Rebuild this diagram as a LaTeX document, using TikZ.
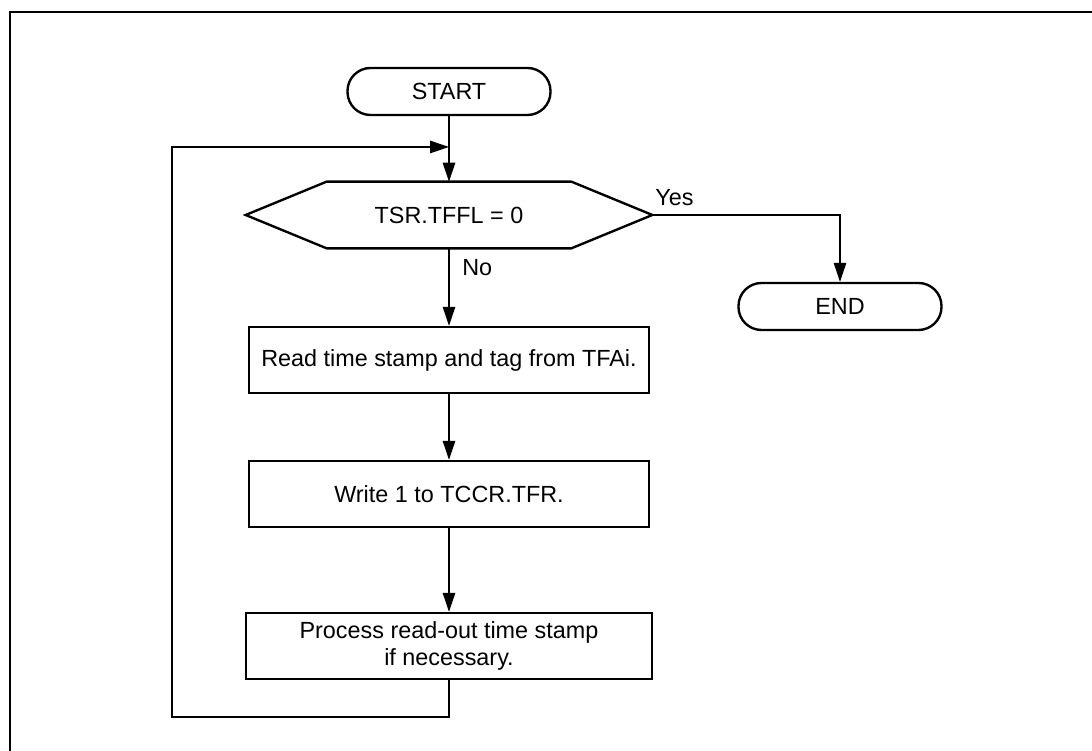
\documentclass[tikz,border=0pt]{standalone}
\usepackage{fontspec}
\setmainfont{Liberation Sans}
\usetikzlibrary{arrows.meta}
\tikzset{
  term/.style={draw,line width=1.35pt,rounded corners=0.46cm,minimum width=4.06cm,minimum height=0.94cm,inner sep=0pt,font=\fontsize{13.3}{15.4}\selectfont},
  proc/.style={draw,line width=1.35pt,minimum width=8.0cm,minimum height=1.32cm,align=center,inner sep=0pt,font=\fontsize{13.3}{15.4}\selectfont},
  lbl/.style={anchor=west,inner sep=0pt,font=\fontsize{13.3}{15.4}\selectfont},
  flow/.style={line width=0.75pt,-{Triangle[length=0.38cm,width=0.25cm]}},
}

\begin{document}
\begin{tikzpicture}[x=1cm,y=1cm]
\path[use as bounding box] (0,0) rectangle (21.84,15.02);
% frame
\draw[line width=1.4pt] (0.20,0) -- (0.20,14.78) -- (21.84,14.78);
% nodes
\node[term] (st) at (8.98,13.19) {START};
\node[minimum width=8.12cm,minimum height=1.32cm,inner sep=0pt,font=\fontsize{13.3}{15.4}\selectfont] (chk) at (8.98,10.72) {TSR.TFFL = 0};
\draw[line width=1.35pt] (chk.west) -- ([xshift=1.62cm]chk.north west) -- ([xshift=-1.62cm]chk.north east) -- (chk.east) -- ([xshift=-1.62cm]chk.south east) -- ([xshift=1.62cm]chk.south west) -- cycle;
\node[term] (en) at (16.80,8.89) {END};
\node[proc] (rd) at (8.98,7.82) {Read time stamp and tag from TFAi.};
\node[proc] (wr) at (8.98,5.14) {Write 1 to TCCR.TFR.};
\node[proc,minimum width=8.12cm,font=\fontsize{13.3}{15.6}\selectfont] (pr) at (8.98,2.10) {Process read-out time stamp\\if necessary.};
\node[lbl] (yes) at (13.10,11.06) {Yes};
\node[lbl] (no) at (9.24,9.66) {No};
% connectors
\coordinate (lpb) at (3.44,0.68);
\coordinate (j) at (8.98,12.08);
\draw[flow] (st.south) -- (chk.north);
\draw[flow] (chk.south) -- (rd.north);
\draw[flow] (rd.south) -- (wr.north);
\draw[flow] (wr.south) -- (pr.north);
\draw[flow] (chk.east) -| (en.north);
\draw[flow] (pr.south) |- (lpb) |- (j);
\end{tikzpicture}
\end{document}
